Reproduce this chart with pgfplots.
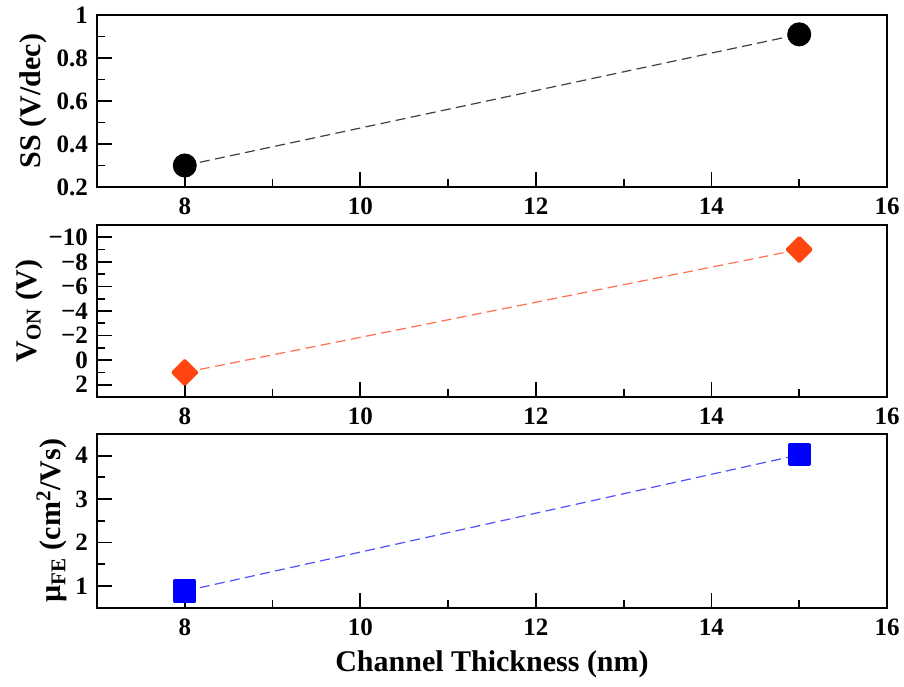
\documentclass[border=0pt]{standalone}
\usepackage{pgfplots}
\pgfplotsset{compat=1.18}
\usepackage{fontspec}
\setmainfont{Liberation Serif}

\definecolor{vonred}{HTML}{FF4510}
\definecolor{vonline}{HTML}{FF7050}
\definecolor{mublue}{HTML}{0000FF}
\definecolor{muline}{HTML}{5050FF}
\definecolor{ssline}{HTML}{404040}

\pgfplotsset{
  panel/.style={
    scale only axis,
    width=395pt,
    xmin=7, xmax=16,
    xtick={8,10,12,14,16},
    minor xtick={9,11,13,15},
    xtick pos=bottom, ytick pos=left,
    tick align=inside,
    major tick length=7.5pt,
    minor tick length=4pt,
    every tick/.style={black, line width=0.9pt},
    axis line style={line width=1pt},
    axis on top,
    /pgf/number format/assume math mode=true,
    tick label style={font=\bfseries\fontsize{12.5}{14}\selectfont},
    xticklabel style={yshift=-2pt},
    yticklabel style={xshift=-1pt},
    label style={font=\bfseries\fontsize{15}{17}\selectfont},
    ylabel style={anchor=center, rotate=0},
  },
  trend/.style={dash pattern=on 5pt off 2.7pt, line width=0.6pt},
}

\begin{document}
\begin{tikzpicture}
\path[use as bounding box] (0pt,0pt) rectangle (452pt,343pt);

% subthreshold swing
\begin{axis}[panel,
  at={(48.5pt,249.5pt)}, anchor=south west,
  height=86pt,
  ymin=0.2, ymax=1,
  ytick={0.2,0.4,0.6,0.8,1},
  yticklabels={0.2,0.4,0.6,0.8,1},
  minor ytick={0.3,0.5,0.7,0.9},
  ylabel={SS (V/dec)},
  ylabel style={at={(axis description cs:-0.081,0.5)}},
]
\addplot[ssline, trend, mark=*, mark size=5.7pt,
  mark options={solid, fill=black, draw=black}]
  coordinates {(8,0.30) (15,0.91)};
\end{axis}

% turn-on voltage
\begin{axis}[panel,
  at={(48.5pt,144.5pt)}, anchor=south west,
  height=86pt,
  ymin=-11, ymax=3, y dir=reverse,
  ytick={-10,-8,-6,-4,-2,0,2},
  yticklabels={−10,−8,−6,−4,−2,0,2},
  minor ytick={-11,-9,-7,-5,-3,-1,1,3},
  ylabel={V\textsubscript{ON} (V)},
  ylabel style={at={(axis description cs:-0.086,0.5)}},
]
\addplot[vonline, trend, mark=square*, mark size=4.2pt,
  mark options={solid, rotate=45, fill=vonred, draw=vonred,
    line width=1.6pt, line join=round}]
  coordinates {(8,1) (15,-9)};
\end{axis}

% field-effect mobility
\begin{axis}[panel,
  at={(48.5pt,39.25pt)}, anchor=south west,
  height=86.75pt,
  ymin=0.5, ymax=4.5,
  ytick={1,2,3,4},
  yticklabels={1,2,3,4},
  minor ytick={0.5,1.5,2.5,3.5,4.5},
  ylabel={\textmu\textsubscript{FE} (cm\textsuperscript{2}/Vs)},
  ylabel style={at={(axis description cs:-0.057,0.5)}},
  xlabel={Channel Thickness (nm)},
  xlabel style={yshift=-1pt},
]
\addplot[muline, trend, mark=square*, mark size=5pt,
  mark options={solid, fill=mublue, draw=mublue,
    line width=1.6pt, line join=round}]
  coordinates {(8,0.88) (15,4.02)};
\end{axis}
\end{tikzpicture}
\end{document}
